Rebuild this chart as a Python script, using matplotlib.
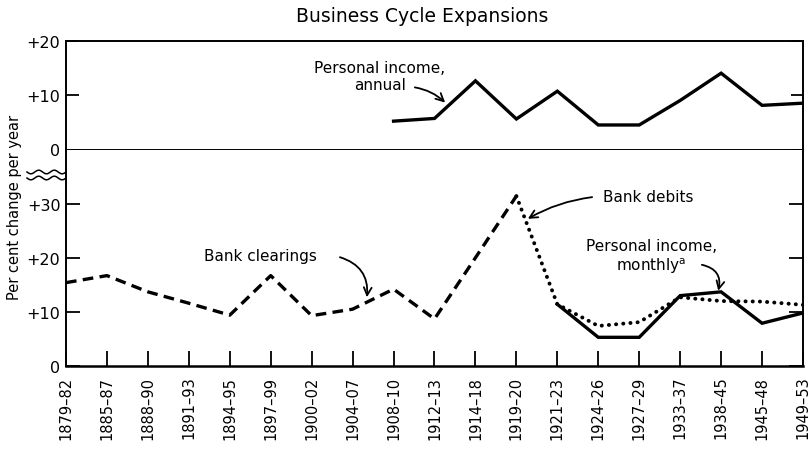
import numpy as np
import matplotlib
matplotlib.use("Agg")
import matplotlib.pyplot as plt
from matplotlib.lines import Line2D

nan = np.nan

categories = ["1879–82", "1885–87", "1888–90", "1891–93", "1894–95", "1897–99",
              "1900–02", "1904–07", "1908–10", "1912–13", "1914–18", "1919–20",
              "1921–23", "1924–26", "1927–29", "1933–37", "1938–45", "1945–48",
              "1949–53"]

bank_clearings = [15.4, 16.7, 13.7, 11.6, 9.4, 16.7, 9.3, 10.5, 14.2, 8.7, 20.0, 31.4,
                  nan, nan, nan, nan, nan, nan, nan]
bank_debits = [nan, nan, nan, nan, nan, nan, nan, nan, nan, nan, nan, 31.4,
               11.4, 7.4, 8.1, 12.7, 12.0, 11.9, 11.3]
personal_income_monthly = [nan, nan, nan, nan, nan, nan, nan, nan, nan, nan, nan, nan,
                           11.4, 5.3, 5.3, 13.0, 13.7, 7.9, 9.8]
personal_income_annual = [nan, nan, nan, nan, nan, nan, nan, nan, 5.2, 5.7, 12.6, 5.6,
                          10.7, 4.5, 4.5, 9.0, 14.0, 8.1, 8.5]

top_ticks = [0, 10, 20]
top_ticklabels = ["0", "+10", "+20"]
bot_ticks = [0, 10, 20, 30]
bot_ticklabels = ["0", "+10", "+20", "+30"]

W, H = 812, 452
fig = plt.figure(figsize=(W / 100, H / 100), dpi=100)

left_px, right_px = 66, 803
top_px, mid_px, bot_px = 41.5, 150.5, 367
L = left_px / W
Wd = (right_px - left_px) / W

ax_top = fig.add_axes([L, 1 - mid_px / H, Wd, (mid_px - top_px) / H])
ax_bot = fig.add_axes([L, 1 - bot_px / H, Wd, (bot_px - mid_px) / H])

x = np.arange(len(categories))
lw = 2.4

ax_top.plot(x, personal_income_annual, color="black", lw=lw, solid_joinstyle="miter")
ax_bot.plot(x, bank_clearings, color="black", lw=lw, linestyle=(0, (3.2, 1.9)),
            dash_capstyle="butt")
ax_bot.plot(x, bank_debits, color="black", lw=2.8, linestyle=(0, (0.05, 1.8)),
            dash_capstyle="round")
ax_bot.plot(x, personal_income_monthly, color="black", lw=lw, solid_joinstyle="miter")

for ax in (ax_top, ax_bot):
    ax.set_xlim(0, len(categories) - 1)
    for s in ax.spines.values():
        s.set_linewidth(1.4)
        s.set_color("black")

ax_top.set_ylim(0, 20)
ax_bot.set_ylim(0, 40)
ax_bot.spines["top"].set_visible(False)
ax_bot.spines["bottom"].set_linewidth(1.8)

ax_top.set_yticks(top_ticks)
ax_top.set_yticklabels(top_ticklabels, fontsize=11.5)
ax_top.tick_params(axis="y", direction="in", length=9, width=1.3, pad=4, right=True)
ax_top.tick_params(axis="x", bottom=False, labelbottom=False)

ax_bot.set_yticks(bot_ticks)
ax_bot.set_yticklabels(bot_ticklabels, fontsize=11.5)
ax_bot.tick_params(axis="y", direction="in", length=10, width=1.3, pad=4, right=True)
ax_bot.set_xticks(x)
ax_bot.set_xticklabels(categories, rotation=90, fontsize=10.5)
ax_bot.tick_params(axis="x", direction="in", length=11, width=1.3, pad=7)

# axis break marks
t = np.linspace(0, 1, 60)
xs = (27 + t * (left_px - 27)) / W
for yc in (173, 179):
    ys = 1 - (yc + 1.8 * np.sin(t * 2 * np.pi * 2.5)) / H
    fig.add_artist(Line2D(xs, ys, color="black", lw=1.1))

fig.text(0.52, 1 - 17 / H, "Business Cycle Expansions", ha="center", va="center",
         fontsize=13.5)
fig.text(15 / W, 1 - 207 / H, "Per cent change per year", rotation=90, ha="center",
         va="center", fontsize=10.5)

tfs = 11
arrow = dict(arrowstyle="->", color="black", lw=1.3, shrinkA=0, shrinkB=0,
             mutation_scale=14)

ax_top.text(7.67, 13.5, "Personal income,\nannual", ha="center", va="center",
            fontsize=tfs, linespacing=1.15)
ax_top.annotate("", xy=(9.26, 8.6), xytext=(8.52, 11.4),
                arrowprops=dict(arrow, connectionstyle="arc3,rad=-0.15"))

ax_bot.text(4.74, 20.5, "Bank clearings", ha="center", va="center", fontsize=tfs)
ax_bot.annotate("", xy=(7.35, 12.7), xytext=(6.69, 20.1),
                arrowprops=dict(arrow, connectionstyle="arc3,rad=-0.4"))

ax_bot.text(14.22, 31.4, "Bank debits", ha="center", va="center", fontsize=tfs)
ax_bot.annotate("", xy=(11.28, 27.2), xytext=(12.85, 31.2),
                arrowprops=dict(arrow, connectionstyle="arc3,rad=0.1"))

ax_bot.text(14.3, 20.3, "Personal income,\nmonthly$^{\\mathrm{a}}$", ha="center",
            va="center", fontsize=tfs, linespacing=1.15)
ax_bot.annotate("", xy=(15.93, 13.9), xytext=(15.53, 18.7),
                arrowprops=dict(arrow, connectionstyle="arc3,rad=-0.5"))

fig.savefig("out.png", dpi=100, facecolor="white")
